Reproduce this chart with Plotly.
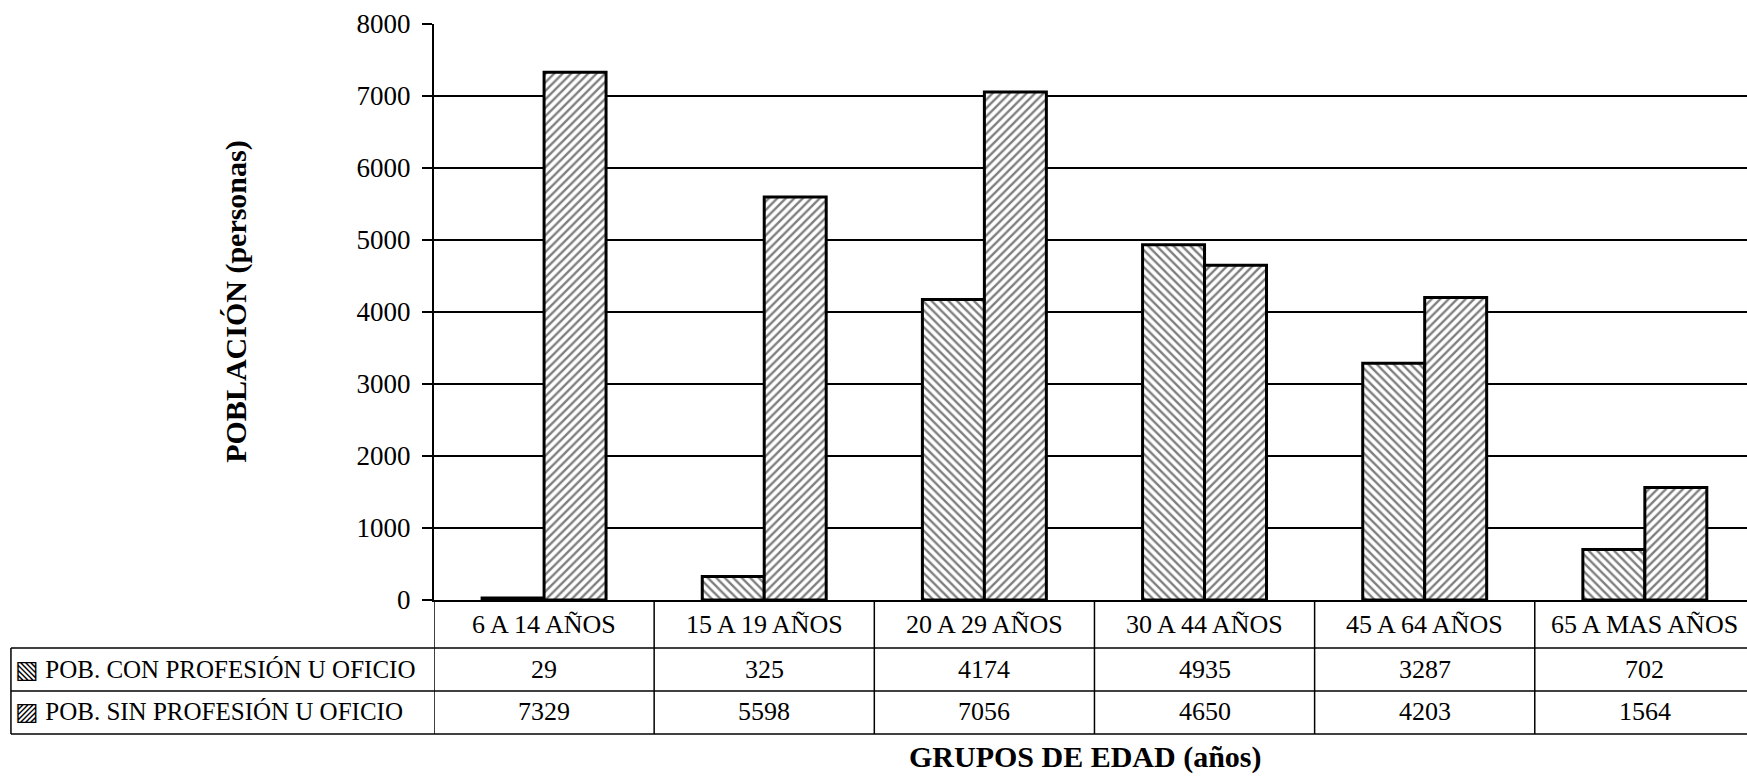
import plotly.graph_objects as go

categories = ["6 A 14 AÑOS", "15 A 19 AÑOS", "20 A 29 AÑOS", "30 A 44 AÑOS", "45 A 64 AÑOS", "65 A MAS AÑOS"]
con_profesion = [29, 325, 4174, 4935, 3287, 702]
sin_profesion = [7329, 5598, 7056, 4650, 4203, 1564]
series_names = ["POB. CON PROFESIÓN U OFICIO", "POB. SIN PROFESIÓN U OFICIO"]
series_symbols = ["▧", "▨"]
y_ticks = [0, 1000, 2000, 3000, 4000, 5000, 6000, 7000, 8000]

FONT = "Liberation Serif, Times New Roman, serif"
xs = list(range(len(categories)))

fig = go.Figure()
for vals, name, shape in [(con_profesion, series_names[0], "\\"), (sin_profesion, series_names[1], "/")]:
    fig.add_trace(go.Bar(
        x=xs, y=vals, name=name,
        marker=dict(color="white",
                    line=dict(color="black", width=3),
                    pattern=dict(shape=shape, fgcolor="black", bgcolor="white",
                                 size=6, solidity=0.4, fillmode="overlay")),
        showlegend=False,
    ))

# table geometry in paper coords (plot area: y 24..600 px, x 434..1747 px)
y_cat_bottom = -0.0833
y_row_mid = -0.158
y_table_bottom = -0.2326
x_table_left = -0.3222

shapes = []
line = dict(color="black", width=1.5)
for yy in [y_cat_bottom, y_row_mid, y_table_bottom]:
    shapes.append(dict(type="line", xref="paper", yref="paper", x0=x_table_left, x1=1.0,
                       y0=yy, y1=yy, line=line))
shapes.append(dict(type="line", xref="paper", yref="paper", x0=x_table_left, x1=x_table_left,
                   y0=y_cat_bottom, y1=y_table_bottom, line=line))
for i in range(len(categories) + 1):
    shapes.append(dict(type="line", xref="x", yref="paper", x0=i - 0.5, x1=i - 0.5,
                       y0=0, y1=y_table_bottom, line=line))

annotations = []
for i, c in enumerate(categories):
    annotations.append(dict(x=i, y=-0.0417, xref="x", yref="paper", text=c, showarrow=False,
                            font=dict(family=FONT, size=26, color="black"), xanchor="center", yanchor="middle"))
    annotations.append(dict(x=i, y=-0.1215, xref="x", yref="paper", text=str(con_profesion[i]), showarrow=False,
                            font=dict(family=FONT, size=26, color="black"), xanchor="center", yanchor="middle"))
    annotations.append(dict(x=i, y=-0.194, xref="x", yref="paper", text=str(sin_profesion[i]), showarrow=False,
                            font=dict(family=FONT, size=26, color="black"), xanchor="center", yanchor="middle"))
for k, yy in enumerate([-0.1215, -0.194]):
    annotations.append(dict(x=-0.3205, y=yy, xref="paper", yref="paper",
                            text=series_symbols[k] + " " + series_names[k], showarrow=False,
                            font=dict(family=FONT, size=25, color="black"), xanchor="left", yanchor="middle"))

annotations.append(dict(x=0.496, y=-0.306, xref="paper", yref="paper", text="<b>GRUPOS DE EDAD (años)</b>",
                        showarrow=False, font=dict(family=FONT, size=30, color="black"),
                        xanchor="center", yanchor="bottom"))
annotations.append(dict(x=-0.151, y=0.519, xref="paper", yref="paper", text="<b>POBLACIÓN (personas)</b>",
                        showarrow=False, textangle=-90, font=dict(family=FONT, size=30, color="black"),
                        xanchor="center", yanchor="middle"))

fig.update_layout(
    width=1747, height=780,
    margin=dict(l=434, r=0, t=24, b=180),
    paper_bgcolor="white", plot_bgcolor="white",
    barmode="group", bargap=0.437, bargroupgap=0,
    shapes=shapes, annotations=annotations,
    font=dict(family=FONT, color="black"),
    xaxis=dict(range=[-0.5, 5.464], showticklabels=False, showgrid=False, zeroline=False,
               showline=True, linecolor="black", linewidth=2, ticks=""),
    yaxis=dict(range=[0, 8000], tickvals=y_ticks, ticktext=[str(v) for v in y_ticks],
               showgrid=True, gridcolor="black", gridwidth=1.5, zeroline=False,
               showline=True, linecolor="black", linewidth=2,
               ticks="outside", ticklen=10, tickwidth=1.5, tickcolor="black",
               ticklabelstandoff=6,
               tickfont=dict(family=FONT, size=27, color="black")),
)

fig.write_html("out.html", config={"displayModeBar": False},
               post_script="document.body.style.margin='0';document.body.style.overflow='hidden';")
